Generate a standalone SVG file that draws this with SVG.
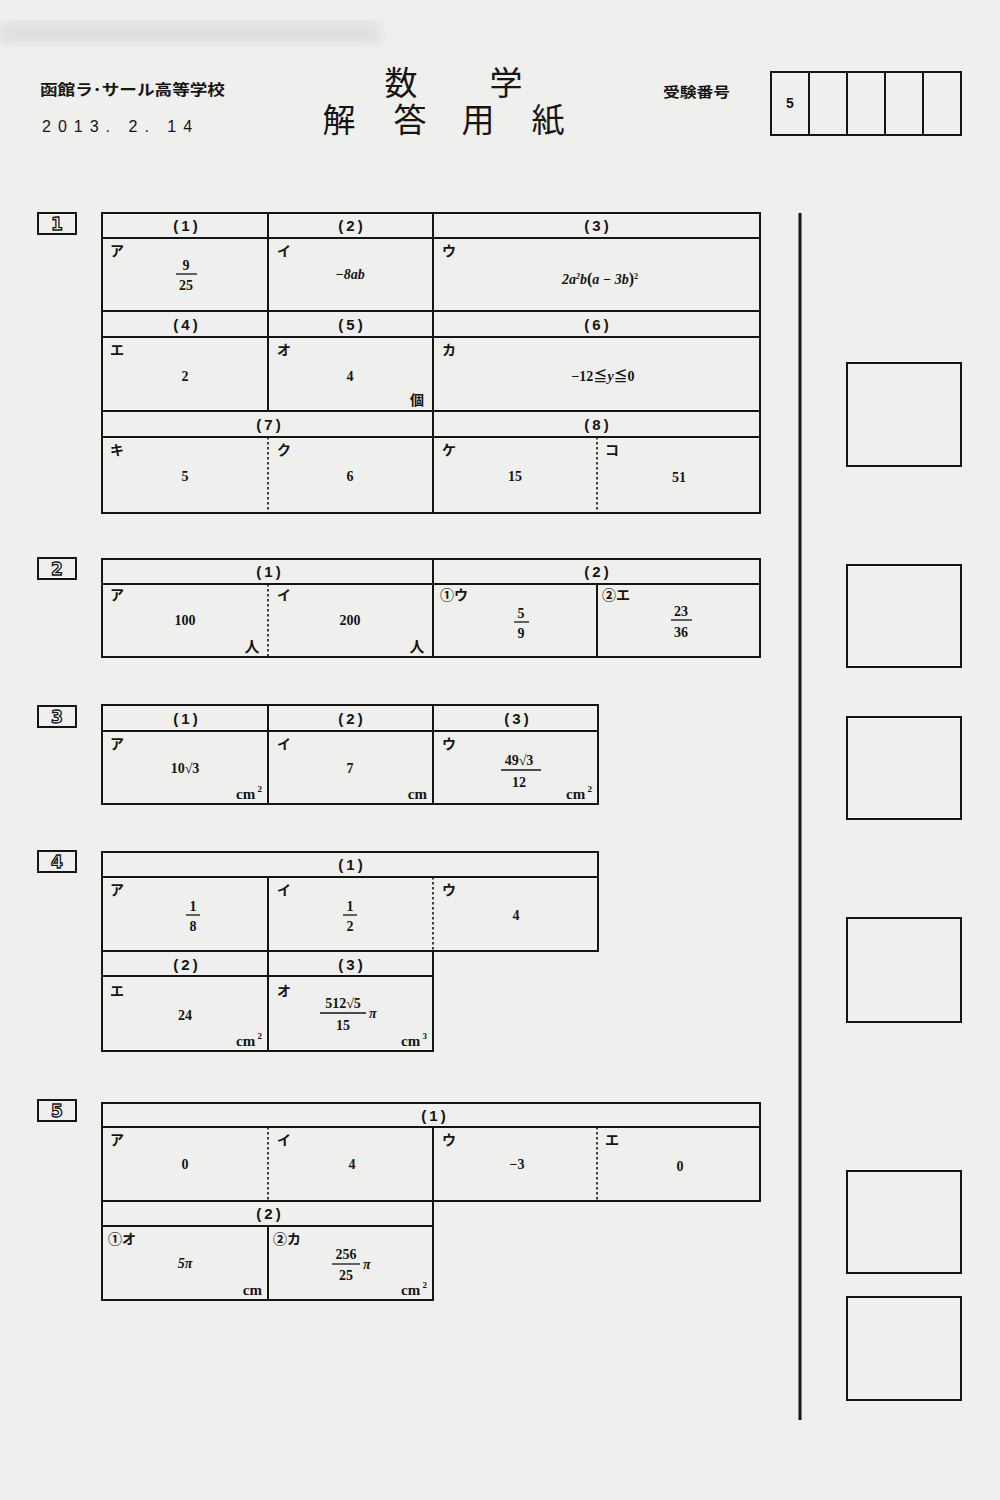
<svg xmlns="http://www.w3.org/2000/svg" width="1000" height="1500" viewBox="0 0 1000 1500">
<defs>
<filter id="blur"><feGaussianBlur stdDeviation="6"/></filter>
<style>
.bg{fill:#efefed}
.b{fill:none;stroke:#151515;stroke-width:2}
.d{fill:none;stroke:#151515;stroke-width:1.6;stroke-dasharray:2.5 2.5}
.h{font-family:"Liberation Sans","Noto Sans CJK JP",sans-serif;font-weight:bold;font-size:15px;fill:#151515;text-anchor:middle;letter-spacing:3px}
.k{font-family:"Noto Sans CJK JP",sans-serif;font-weight:bold;font-size:14px;fill:#151515}
.a{font-family:"Liberation Serif","Noto Sans CJK JP",serif;font-weight:bold;font-size:14px;fill:#151515;text-anchor:middle}
.ai{font-family:"Liberation Serif",serif;font-weight:bold;font-style:italic;font-size:14px;fill:#151515}
.u{font-family:"Liberation Serif",serif;font-weight:bold;font-size:15px;fill:#151515;text-anchor:end}
.fl{stroke:#151515;stroke-width:1.3}
.sec{font-family:"DejaVu Sans","Liberation Sans",sans-serif;font-weight:bold;font-size:17px;fill:#fff;stroke:#151515;stroke-width:1.3;text-anchor:middle}
.t{font-family:"Noto Sans CJK JP",sans-serif;font-size:33px;fill:#151515;text-anchor:middle}
</style>
</defs>
<rect class="bg" x="0" y="0" width="1000" height="1500"/>
<rect x="0" y="22" width="380" height="22" fill="#cfcfcf" opacity="0.5" filter="url(#blur)"/>

<g id="header">
<text x="40" y="95" font-family="Noto Sans CJK JP,sans-serif" font-weight="bold" font-size="15" fill="#151515" textLength="185" lengthAdjust="spacingAndGlyphs">函館ラ･サール高等学校</text>
<text x="42" y="132" font-family="Liberation Sans,sans-serif" font-size="16" fill="#151515" letter-spacing="7">2013. 2. 14</text>
<text class="t"><tspan x="401" y="95">数</tspan><tspan x="506" y="95">学</tspan><tspan x="339" y="132">解</tspan><tspan x="410" y="132">答</tspan><tspan x="478" y="132">用</tspan><tspan x="548" y="132">紙</tspan></text>
<text x="663" y="97" font-family="Noto Sans CJK JP,sans-serif" font-weight="bold" font-size="14" fill="#151515" textLength="67" lengthAdjust="spacingAndGlyphs">受験番号</text>
</g>
<g id="exam-number">
<rect class="b" x="771" y="72" width="190" height="63"/>
<line class="b" x1="809" y1="72" x2="809" y2="135"/>
<line class="b" x1="847" y1="72" x2="847" y2="135"/>
<line class="b" x1="885" y1="72" x2="885" y2="135"/>
<line class="b" x1="923" y1="72" x2="923" y2="135"/>
<text x="790" y="108" font-family="Liberation Sans,sans-serif" font-weight="bold" font-size="14" fill="#151515" text-anchor="middle">5</text>
</g>

<!-- Section 1 -->
<g id="sec1">
<rect class="b" x="38" y="213" width="38" height="21"/>
<text class="sec" x="57" y="230">1</text>
<rect class="b" x="102" y="213" width="658" height="300"/>
<line class="b" x1="102" y1="238" x2="760" y2="238"/>
<line class="b" x1="102" y1="311" x2="760" y2="311"/>
<line class="b" x1="102" y1="337" x2="760" y2="337"/>
<line class="b" x1="102" y1="411" x2="760" y2="411"/>
<line class="b" x1="102" y1="437" x2="760" y2="437"/>
<line class="b" x1="268" y1="213" x2="268" y2="411"/>
<line class="b" x1="433" y1="213" x2="433" y2="513"/>
<line class="d" x1="268" y1="437" x2="268" y2="513"/>
<line class="d" x1="597" y1="437" x2="597" y2="513"/>
<text class="h" x="187" y="231">(1)</text>
<text class="h" x="352" y="231">(2)</text>
<text class="h" x="598" y="231">(3)</text>
<text class="k" x="110" y="256">ア</text>
<text class="a" x="186" y="270">9</text>
<line class="fl" x1="176" y1="274" x2="197" y2="274"/>
<text class="a" x="186" y="290">25</text>
<text class="k" x="277" y="256">イ</text>
<text class="ai" x="350" y="279" text-anchor="middle">−8ab</text>
<text class="k" x="442" y="256">ウ</text>
<text class="ai" x="600" y="284" text-anchor="middle" font-size="13">2a<tspan dy="-5" font-size="8">2</tspan><tspan dy="5">b</tspan><tspan font-style="normal" font-size="16">(</tspan>a − 3b<tspan font-style="normal" font-size="16">)</tspan><tspan dy="-5" font-size="8" font-style="normal">2</tspan></text>
<text class="h" x="187" y="330">(4)</text>
<text class="h" x="352" y="330">(5)</text>
<text class="h" x="598" y="330">(6)</text>
<text class="k" x="110" y="355">エ</text>
<text class="a" x="185" y="381">2</text>
<text class="k" x="277" y="355">オ</text>
<text class="a" x="350" y="381">4</text>
<text x="417" y="405" font-family="Noto Sans CJK JP,sans-serif" font-weight="bold" font-size="14" fill="#151515" text-anchor="middle">個</text>
<text class="k" x="442" y="355">カ</text>
<text class="a" x="603" y="381">−12≦<tspan font-style="italic">y</tspan>≦0</text>
<text class="h" x="270" y="430">(7)</text>
<text class="h" x="598" y="430">(8)</text>
<text class="k" x="110" y="455">キ</text>
<text class="a" x="185" y="481">5</text>
<text class="k" x="277" y="455">ク</text>
<text class="a" x="350" y="481">6</text>
<text class="k" x="442" y="455">ケ</text>
<text class="a" x="515" y="481">15</text>
<text class="k" x="605" y="455">コ</text>
<text class="a" x="679" y="482">51</text>
</g>

<!-- Section 2 -->
<g id="sec2">
<rect class="b" x="38" y="558" width="38" height="21"/>
<text class="sec" x="57" y="575">2</text>
<rect class="b" x="102" y="559" width="658" height="98"/>
<line class="b" x1="102" y1="584" x2="760" y2="584"/>
<line class="b" x1="433" y1="559" x2="433" y2="657"/>
<line class="b" x1="597" y1="584" x2="597" y2="657"/>
<line class="d" x1="268" y1="584" x2="268" y2="657"/>
<text class="h" x="270" y="577">(1)</text>
<text class="h" x="598" y="577">(2)</text>
<text class="k" x="110" y="600">ア</text>
<text class="a" x="185" y="625">100</text>
<text x="252" y="652" font-family="Noto Sans CJK JP,sans-serif" font-weight="bold" font-size="15" fill="#151515" text-anchor="middle">人</text>
<text class="k" x="277" y="600">イ</text>
<text class="a" x="350" y="625">200</text>
<text x="417" y="652" font-family="Noto Sans CJK JP,sans-serif" font-weight="bold" font-size="15" fill="#151515" text-anchor="middle">人</text>
<text class="k" x="440" y="600">①ウ</text>
<text class="a" x="521" y="618">5</text>
<line class="fl" x1="514" y1="622" x2="529" y2="622"/>
<text class="a" x="521" y="638">9</text>
<text class="k" x="602" y="600">②エ</text>
<text class="a" x="681" y="616">23</text>
<line class="fl" x1="671" y1="620" x2="692" y2="620"/>
<text class="a" x="681" y="637">36</text>
</g>

<!-- Section 3 -->
<g id="sec3">
<rect class="b" x="38" y="706" width="38" height="21"/>
<text class="sec" x="57" y="723">3</text>
<rect class="b" x="102" y="705" width="496" height="99"/>
<line class="b" x1="102" y1="731" x2="598" y2="731"/>
<line class="b" x1="268" y1="705" x2="268" y2="804"/>
<line class="b" x1="433" y1="705" x2="433" y2="804"/>
<text class="h" x="187" y="724">(1)</text>
<text class="h" x="352" y="724">(2)</text>
<text class="h" x="518" y="724">(3)</text>
<text class="k" x="110" y="749">ア</text>
<text class="a" x="185" y="773">10√3</text>
<text class="u" x="262" y="799">cm<tspan dy="-7" font-size="9"> 2</tspan></text>
<text class="k" x="277" y="749">イ</text>
<text class="a" x="350" y="773">7</text>
<text class="u" x="427" y="799">cm</text>
<text class="k" x="442" y="749">ウ</text>
<text class="a" x="519" y="765">49√3</text>
<line class="fl" x1="501" y1="770" x2="541" y2="770"/>
<text class="a" x="519" y="787">12</text>
<text class="u" x="592" y="799">cm<tspan dy="-7" font-size="9"> 2</tspan></text>
</g>

<!-- Section 4 -->
<g id="sec4">
<rect class="b" x="38" y="851" width="38" height="21"/>
<text class="sec" x="57" y="868">4</text>
<rect class="b" x="102" y="852" width="496" height="99"/>
<line class="b" x1="102" y1="877" x2="598" y2="877"/>
<line class="b" x1="268" y1="877" x2="268" y2="951"/>
<line class="d" x1="433" y1="877" x2="433" y2="951"/>
<text class="h" x="352" y="870">(1)</text>
<text class="k" x="110" y="895">ア</text>
<text class="a" x="193" y="911">1</text>
<line class="fl" x1="186" y1="915" x2="200" y2="915"/>
<text class="a" x="193" y="931">8</text>
<text class="k" x="277" y="895">イ</text>
<text class="a" x="350" y="911">1</text>
<line class="fl" x1="343" y1="915" x2="357" y2="915"/>
<text class="a" x="350" y="931">2</text>
<text class="k" x="442" y="895">ウ</text>
<text class="a" x="516" y="920">4</text>
<rect class="b" x="102" y="951" width="331" height="100"/>
<line class="b" x1="102" y1="976" x2="433" y2="976"/>
<line class="b" x1="268" y1="951" x2="268" y2="1051"/>
<text class="h" x="187" y="970">(2)</text>
<text class="h" x="352" y="970">(3)</text>
<text class="k" x="110" y="996">エ</text>
<text class="a" x="185" y="1020">24</text>
<text class="u" x="262" y="1046">cm<tspan dy="-7" font-size="9"> 2</tspan></text>
<text class="k" x="277" y="996">オ</text>
<text class="a" x="343" y="1008">512√5</text>
<line class="fl" x1="320" y1="1013" x2="366" y2="1013"/>
<text class="a" x="343" y="1030">15</text>
<text class="ai" x="369" y="1018" font-size="12">π</text>
<text class="u" x="427" y="1046">cm<tspan dy="-7" font-size="9"> 3</tspan></text>
</g>

<!-- Section 5 -->
<g id="sec5">
<rect class="b" x="38" y="1100" width="38" height="21"/>
<text class="sec" x="57" y="1117">5</text>
<rect class="b" x="102" y="1103" width="658" height="98"/>
<line class="b" x1="102" y1="1127" x2="760" y2="1127"/>
<line class="d" x1="268" y1="1127" x2="268" y2="1201"/>
<line class="b" x1="433" y1="1127" x2="433" y2="1201"/>
<line class="d" x1="597" y1="1127" x2="597" y2="1201"/>
<text class="h" x="435" y="1121">(1)</text>
<text class="k" x="110" y="1145">ア</text>
<text class="a" x="185" y="1169">0</text>
<text class="k" x="277" y="1145">イ</text>
<text class="a" x="352" y="1169">4</text>
<text class="k" x="442" y="1145">ウ</text>
<text class="a" x="517" y="1169">−3</text>
<text class="k" x="605" y="1145">エ</text>
<text class="a" x="680" y="1171">0</text>
<rect class="b" x="102" y="1201" width="331" height="99"/>
<line class="b" x1="102" y1="1226" x2="433" y2="1226"/>
<line class="b" x1="268" y1="1226" x2="268" y2="1300"/>
<text class="h" x="270" y="1219">(2)</text>
<text class="k" x="108" y="1244">①オ</text>
<text class="ai" x="185" y="1268" text-anchor="middle">5π</text>
<text class="u" x="262" y="1295">cm</text>
<text class="k" x="273" y="1244">②カ</text>
<text class="a" x="346" y="1259">256</text>
<line class="fl" x1="332" y1="1264" x2="360" y2="1264"/>
<text class="a" x="346" y="1280">25</text>
<text class="ai" x="363" y="1269" font-size="12">π</text>
<text class="u" x="427" y="1295">cm<tspan dy="-7" font-size="9"> 2</tspan></text>
</g>

<!-- Score column -->
<g id="score">
<line x1="800" y1="213" x2="800" y2="1420" stroke="#151515" stroke-width="3"/>
<rect class="b" x="847" y="363" width="114" height="103"/>
<rect class="b" x="847" y="565" width="114" height="102"/>
<rect class="b" x="847" y="717" width="114" height="102"/>
<rect class="b" x="847" y="918" width="114" height="104"/>
<rect class="b" x="847" y="1171" width="114" height="102"/>
<rect class="b" x="847" y="1297" width="114" height="103"/>
</g>
</svg>
